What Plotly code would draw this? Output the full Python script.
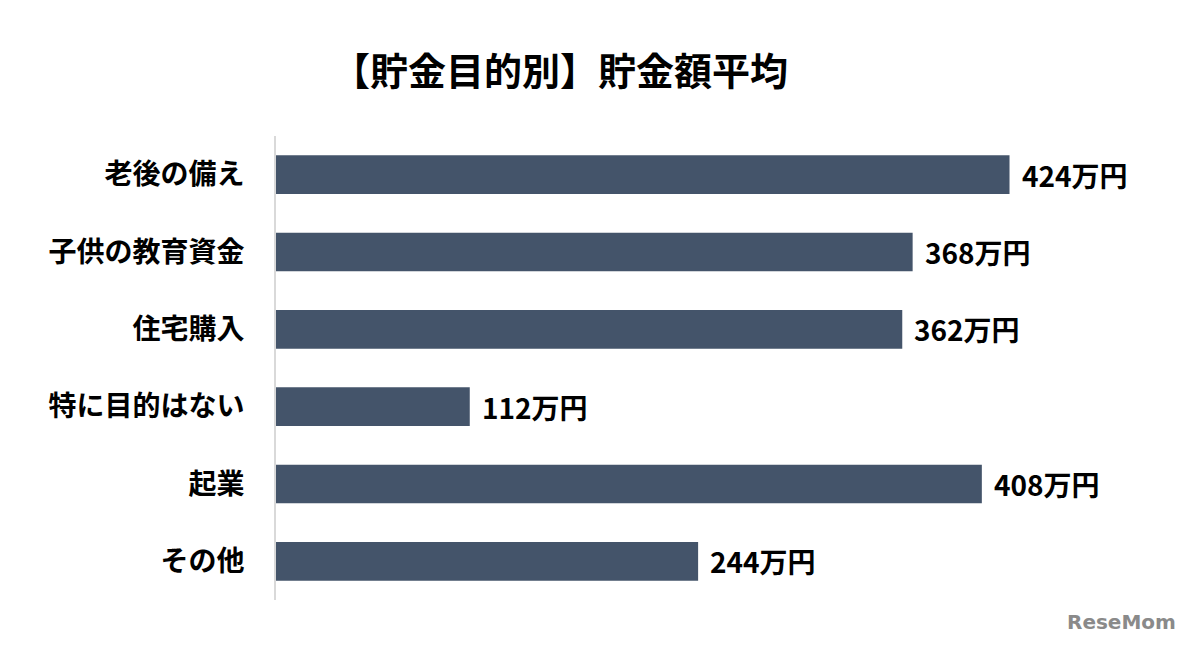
import plotly.graph_objects as go

categories = ["老後の備え", "子供の教育資金", "住宅購入", "特に目的はない", "起業", "その他"]
values = [424, 368, 362, 112, 408, 244]
value_labels = [f"{v}万円" for v in values]
title_text = "【貯金目的別】貯金額平均"

FONT = "Noto Sans CJK JP"
BAR_COLOR = "#44546A"

fig = go.Figure()
fig.add_trace(go.Bar(
    x=values, y=categories, orientation="h",
    marker=dict(color=BAR_COLOR, line=dict(width=0)),
    hoverinfo="skip",
))

for v, c, t in zip(values, categories, value_labels):
    fig.add_annotation(x=v, y=c, xref="x", yref="y", text=f"<b>{t}</b>",
                       showarrow=False, xanchor="left", yanchor="middle", xshift=10,
                       font=dict(family=FONT, size=28, color="#000000"))

fig.add_annotation(text=f"<b>{title_text}</b>", xref="paper", yref="paper",
                   x=(560 - 276) / 865, y=1 + (136 - 68) / 464, xanchor="center", yanchor="middle",
                   showarrow=False, font=dict(family=FONT, size=38, color="#000000"))

fig.add_annotation(text="<b>ReseMom</b>", xref="paper", yref="paper",
                   x=(1178 - 276) / 865, y=-(622 - 600) / 464, xanchor="right", yanchor="middle",
                   showarrow=False, font=dict(family="DejaVu Sans", size=20, color="#8a8a8a"))

fig.update_layout(
    width=1188, height=645,
    margin=dict(l=268, r=55, t=128, b=53, autoexpand=False),
    paper_bgcolor="white", plot_bgcolor="white",
    bargap=0.5,
    showlegend=False,
    font=dict(family=FONT, color="#000000"),
    xaxis=dict(range=[0, 500], visible=False, showgrid=False, zeroline=False, fixedrange=True,
               automargin=False),
    yaxis=dict(autorange="reversed", showline=True, linecolor="#D9D9D9", linewidth=2,
               ticks="", showgrid=False, zeroline=False, ticklabelstandoff=24, automargin=False,
               tickfont=dict(family=FONT, size=28, color="#000000"),
               tickvals=categories, ticktext=[f"<b>{c}</b>" for c in categories]),
)

fig.write_html("out.html")
